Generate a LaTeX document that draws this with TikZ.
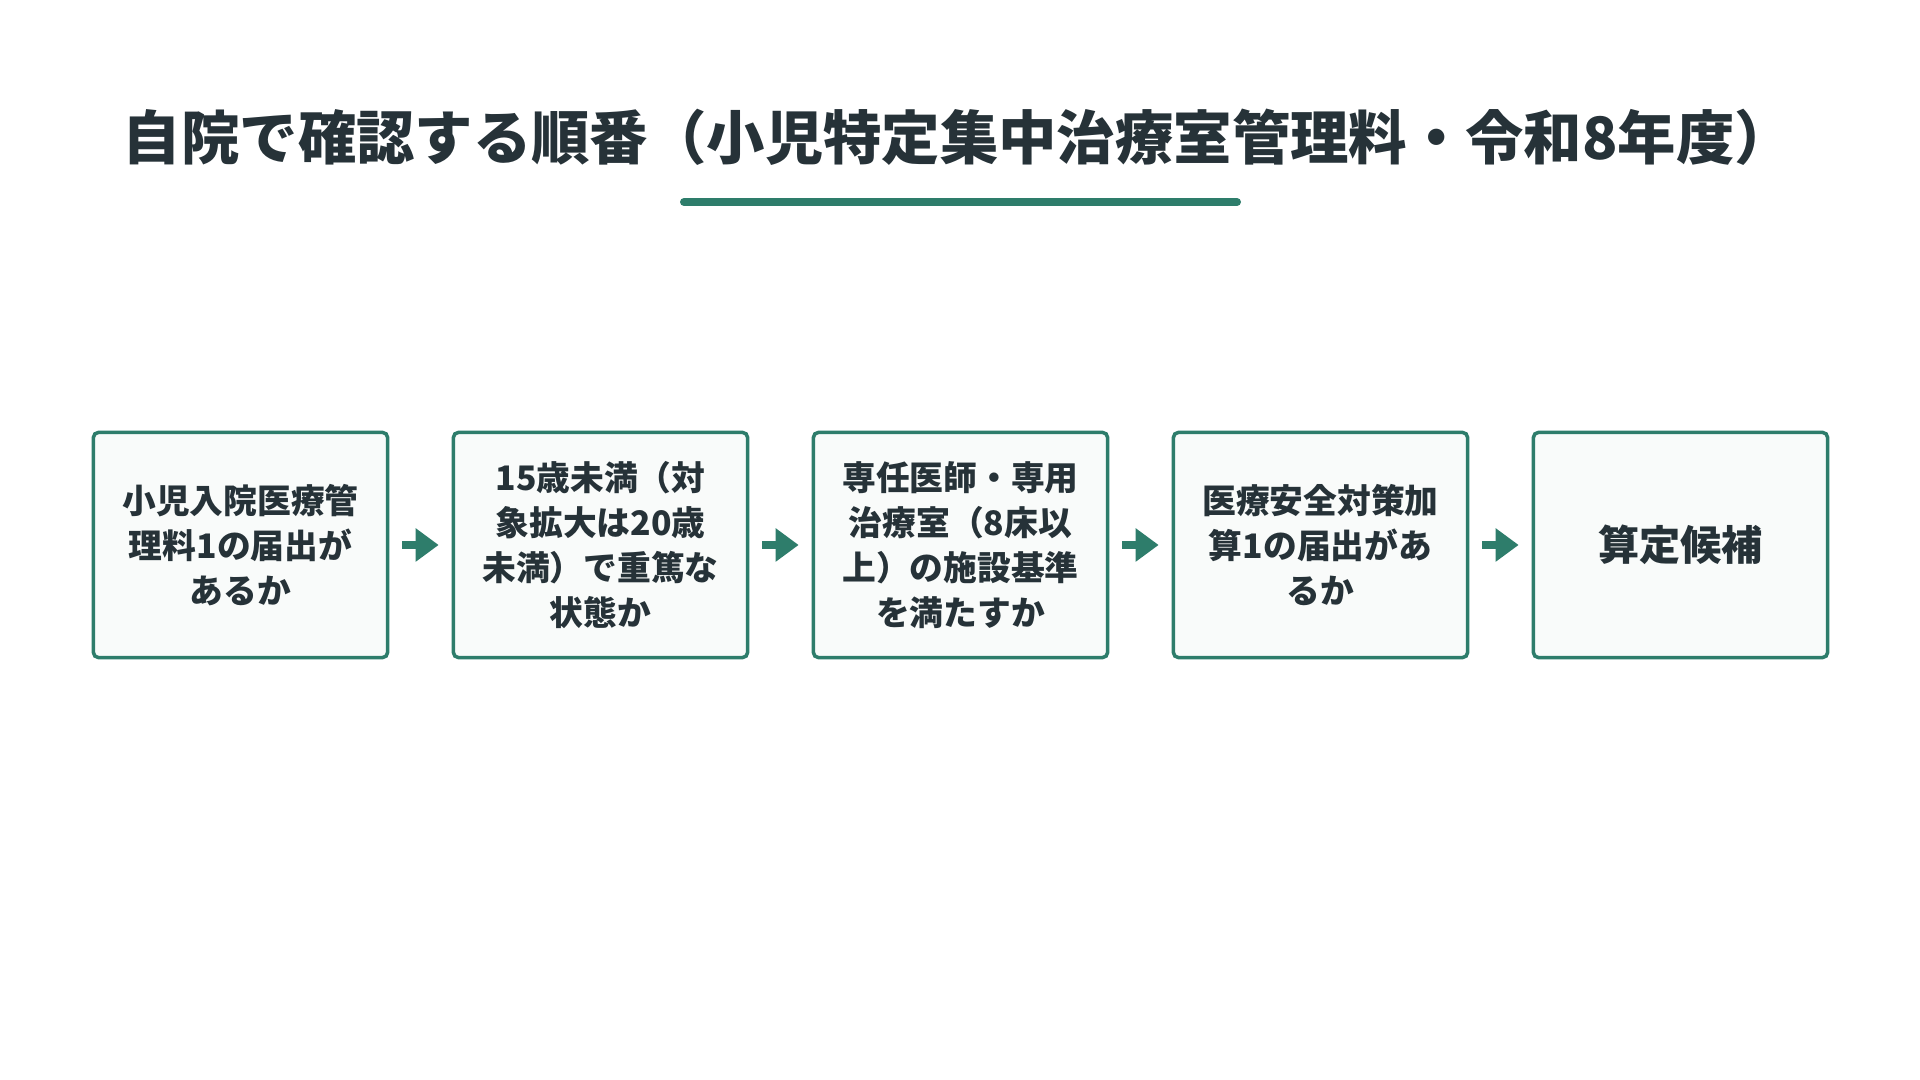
\documentclass[tikz,border=0pt]{standalone}
\usepackage{fontspec}
\setmainfont{Noto Sans CJK JP}[BoldFont={Noto Sans CJK JP Black}]
\usepackage{tikz}
\usetikzlibrary{arrows.meta}

\definecolor{teal1}{HTML}{2E7D6B}
\definecolor{ink}{HTML}{263238}
\definecolor{paper}{HTML}{F9FBFA}

\begin{document}
\begin{tikzpicture}
  [x=0.01cm,y=-0.01cm,every node/.style={text=ink,font=\bfseries},
   stepbox/.style={draw=teal1,line width=1pt,fill=paper,rounded corners=0.05cm,minimum width=2.94cm,minimum height=2.25cm,inner sep=0pt,align=center,font=\bfseries\fontsize{9.6}{12.8}\selectfont},
   flow/.style={draw=teal1,line width=0.08cm,-{Triangle[length=0.23cm,width=0.32cm]},shorten <=0.13cm,shorten >=0.13cm}]
  \useasboundingbox (0,0) rectangle (1920,1080);

  \node[font=\bfseries\fontsize{16.6}{19}\selectfont] (title) at (958,137) {自院で確認する順番（小児特定集中治療室管理料・令和8年度）};
  \draw[teal1,line width=0.08cm,line cap=round] (684,202) -- (1237,202);

  \node[stepbox] (1) at (240.5,545) {小児入院医療管\\理料1の届出が\\あるか};
  \node[stepbox] (2) at (600.5,545) {15歳未満（対\\象拡大は20歳\\未満）で重篤な\\状態か};
  \node[stepbox] (3) at (960.5,545) {専任医師・専用\\治療室（8床以\\上）の施設基準\\を満たすか};
  \node[stepbox] (4) at (1320.5,545) {医療安全対策加\\算1の届出があ\\るか};
  \node[stepbox,font=\bfseries\fontsize{11.7}{14}\selectfont] (5) at (1680.5,545) {算定候補};

  \foreach \from/\to in {1/2,2/3,3/4,4/5}
    \draw[flow] (\from) -- (\to);

\end{tikzpicture}
\end{document}
